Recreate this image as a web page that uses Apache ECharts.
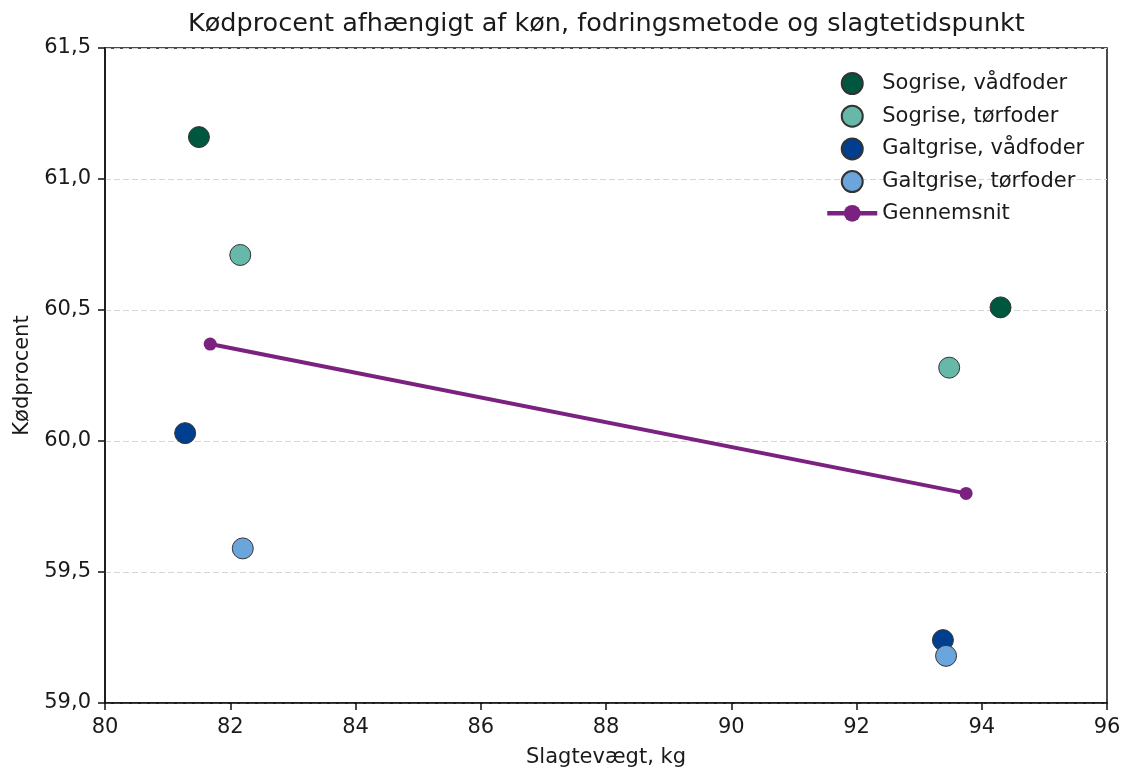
<!DOCTYPE html>
<html><head><meta charset="utf-8">
<script src="https://cdn.jsdelivr.net/npm/echarts@6/dist/echarts.min.js"></script>
<style>html,body{margin:0;padding:0;background:#fff}#c{width:1126px;height:769px}</style>
</head><body><div id="c"></div>
<script>
const sogVadX = [81.50, 94.30];
const sogVadY = [61.16, 60.51];
const sogTorX = [82.16, 93.48];
const sogTorY = [60.71, 60.28];
const galtVadX = [81.28, 93.38];
const galtVadY = [60.03, 59.24];
const galtTorX = [82.20, 93.43];
const galtTorY = [59.59, 59.18];
const meanX = [81.68, 93.75];
const meanY = [60.37, 59.80];
const names = ['Sogrise, vådfoder','Sogrise, tørfoder','Galtgrise, vådfoder','Galtgrise, tørfoder','Gennemsnit'];
const colors = ['#00573f','#66b9a8','#003f8f','#6aa5dc','#7b2281'];
const titleText = 'Kødprocent afhængigt af køn, fodringsmetode og slagtetidspunkt';

const zip = (a,b)=>a.map((v,i)=>[v,b[i]]);
const font = 'DejaVu Sans';
const txt = '#1a1a1a';
const chart = echarts.init(document.getElementById('c'));
function scat(i, xs, ys){
  return {name:names[i], type:'scatter', data:zip(xs,ys), symbolSize:21,
    itemStyle:{color:colors[i], borderColor:'#333', borderWidth:1, opacity:1}, z:3};
}
const legendData = names.map((n,i)=> i===4 ? {name:n, lineStyle:{width:4.5, color:colors[4]}} : n);
chart.setOption({
  animation:false,
  graphic:[{type:'text', left:188, top:11, style:{text:titleText, fontFamily:font, fontSize:25.5, fill:txt}}],
  grid:{left:105, right:19, top:48, bottom:66, show:true, borderColor:'#111', borderWidth:1.5, containLabel:false, outerBoundsMode:'none'},
  legend:{orient:'vertical', left:820, top:67, itemGap:9.7, itemWidth:50, itemHeight:21,
    textStyle:{fontFamily:font, fontSize:21, color:txt, padding:[0,0,0,0]},
    data:legendData},
  xAxis:{type:'value', min:80, max:96, interval:2, name:'Slagtevægt, kg', nameLocation:'middle', nameGap:44,
    nameTextStyle:{fontFamily:font, fontSize:21, color:txt},
    axisLine:{show:true, onZero:false, lineStyle:{color:'#111', width:1.5}},
    axisTick:{show:true, length:7, inside:false, lineStyle:{color:'#111', width:1.5}},
    axisLabel:{fontFamily:font, fontSize:21, color:txt, margin:14},
    splitLine:{show:false}},
  yAxis:{type:'value', min:59, max:61.5, interval:0.5, name:'Kødprocent', nameLocation:'middle', nameGap:72,
    nameTextStyle:{fontFamily:font, fontSize:21, color:txt},
    axisLine:{show:true, onZero:false, lineStyle:{color:'#111', width:1.5}},
    axisTick:{show:true, length:7, inside:false, lineStyle:{color:'#111', width:1.5}},
    axisLabel:{fontFamily:font, fontSize:21, color:txt, margin:14, formatter:v=>v.toFixed(1).replace('.',',')},
    splitLine:{show:true, lineStyle:{color:'#d6d6d6', type:[6,3], width:1.2}}},
  series:[
    scat(0, sogVadX, sogVadY),
    scat(1, sogTorX, sogTorY),
    scat(2, galtVadX, galtVadY),
    scat(3, galtTorX, galtTorY),
    {name:names[4], type:'line', data:zip(meanX,meanY), symbol:'circle', symbolSize:13,
      lineStyle:{color:colors[4], width:4}, itemStyle:{color:colors[4]}, z:2}
  ]
});
</script></body></html>
